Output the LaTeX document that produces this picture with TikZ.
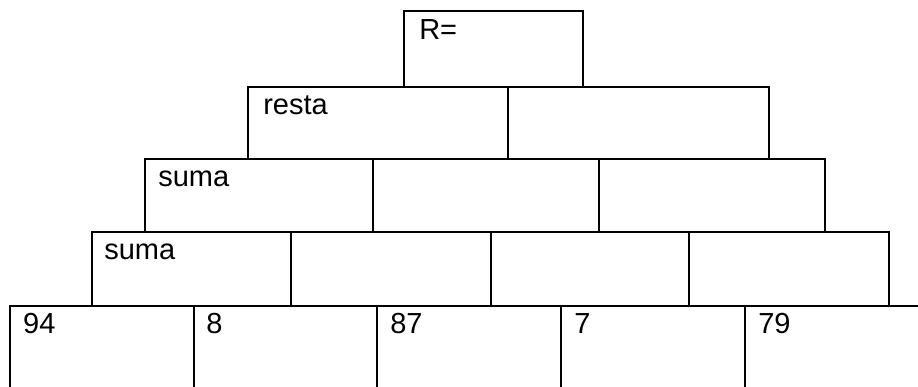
\documentclass[tikz,border=0pt]{standalone}
\usepackage{fontspec}
\setmainfont{Liberation Sans}
\usetikzlibrary{positioning}

\begin{document}
\begin{tikzpicture}[x=1pt, y=-1pt, line width=2.5pt,
    cell/.style={draw, rectangle, inner sep=0pt, outer sep=0pt, anchor=north west},
    txt/.style={anchor=base west, inner sep=0pt, font=\fontsize{29}{33}\selectfont}]
        \clip (0,0) rectangle (918,386);

        % top
        \node[cell, minimum width=179pt, minimum height=76pt] (r0) at (404,11) {};

        % second row
        \node[cell, minimum width=260pt, minimum height=72pt] (r10) at (248,87) {};
        \node[cell, minimum width=261pt, minimum height=72pt] (r11) [right=0pt of r10.north east, anchor=north west] {};

        % third row
        \node[cell, minimum width=228pt, minimum height=73pt] (r20) at (145,159) {};
        \node[cell, minimum width=226pt, minimum height=73pt] (r21) [right=0pt of r20.north east, anchor=north west] {};
        \node[cell, minimum width=226pt, minimum height=73pt] (r22) [right=0pt of r21.north east, anchor=north west] {};

        % fourth row
        \node[cell, minimum width=199pt, minimum height=74pt] (r30) at (92,232) {};
        \node[cell, minimum width=200pt, minimum height=74pt] (r31) [right=0pt of r30.north east, anchor=north west] {};
        \node[cell, minimum width=198pt, minimum height=74pt] (r32) [right=0pt of r31.north east, anchor=north west] {};
        \node[cell, minimum width=200pt, minimum height=74pt] (r33) [right=0pt of r32.north east, anchor=north west] {};

        % bottom row
        \node[cell, minimum width=184pt, minimum height=100pt] (r40) at (10,306) {};
        \node[cell, minimum width=183pt, minimum height=100pt] (r41) [right=0pt of r40.north east, anchor=north west] {};
        \node[cell, minimum width=184pt, minimum height=100pt] (r42) [right=0pt of r41.north east, anchor=north west] {};
        \node[cell, minimum width=184pt, minimum height=100pt] (r43) [right=0pt of r42.north east, anchor=north west] {};
        \node[cell, minimum width=184pt, minimum height=100pt] (r44) [right=0pt of r43.north east, anchor=north west] {};

        % texts
        \node[txt] (tR)  at ([shift={(14,28)}]r0.north west)  {R=};
        \node[txt] (tre) at ([shift={(14,27)}]r10.north west) {resta};
        \node[txt] (ts2) at ([shift={(12,27)}]r20.north west) {suma};
        \node[txt] (ts3) at ([shift={(11,27)}]r30.north west) {suma};
        \node[txt] (t94) at ([shift={(12,27)}]r40.north west) {94};
        \node[txt] (t8)  at ([shift={(11,27)}]r41.north west) {8};
        \node[txt] (t87) at ([shift={(12,27)}]r42.north west) {87};
        \node[txt] (t7)  at ([shift={(12,27)}]r43.north west) {7};
        \node[txt] (t79) at ([shift={(12,27)}]r44.north west) {79};
         
    \end{tikzpicture}
\end{document}
